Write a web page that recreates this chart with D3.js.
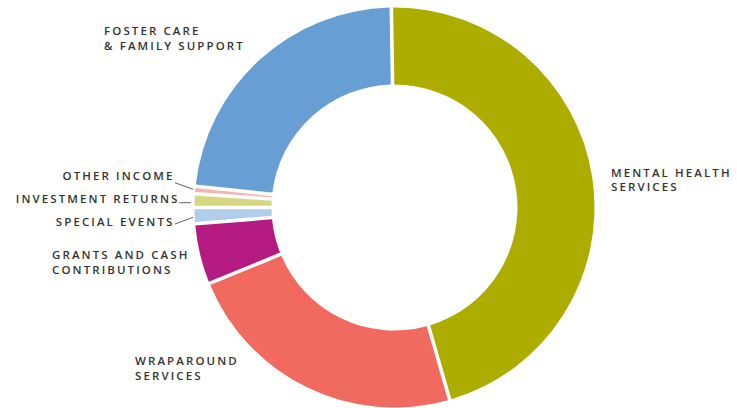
<!DOCTYPE html>
<html>
<head>
<meta charset="utf-8">
<script src="https://cdn.jsdelivr.net/npm/d3@7"></script>
<style>
  body { margin: 0; background: #fff; }
  text { font-family: "Open Sans", sans-serif; font-size: 11.5px; font-weight: 600; fill: #333; letter-spacing: 2.1px; }
</style>
</head>
<body>
<div id="donut"></div>
<script>
const width = 737,
    height = 408;

// revenue shares (percent), clockwise from the top
const categories = ["Mental Health Services", "Wraparound Services", "Grants and Cash Contributions",
  "Special Events", "Investment Returns", "Other Income", "Foster Care & Family Support"];
const values = [45.8, 23.25, 4.9, 1.3, 1.1, 0.6, 23.05];
const colors = ["#adad00", "#f06a60", "#b51a83", "#b0cdeb", "#d6d780", "#f7b3ae", "#679ed4"];

// label text lines, one entry per category
const labelLines = [
  ["MENTAL HEALTH", "SERVICES"],
  ["WRAPAROUND", "SERVICES"],
  ["GRANTS AND CASH", "CONTRIBUTIONS"],
  ["SPECIAL EVENTS"],
  ["INVESTMENT RETURNS"],
  ["OTHER INCOME"],
  ["FOSTER CARE", "& FAMILY SUPPORT"]
];

// hand placed label spots (x, first baseline, anchor) and leader lines
const labelPos = [
  { x: 611, y: 176.7, anchor: "start" },
  { x: 135, y: 365, anchor: "start" },
  { x: 52, y: 259.3, anchor: "start" },
  { x: 174.5, y: 225.7, anchor: "end" },
  { x: 179.5, y: 203.3, anchor: "end" },
  { x: 174.5, y: 180, anchor: "end" },
  { x: 104, y: 35.3, anchor: "start" }
];
const leaders = [
  null, null, null,
  [[175, 224], [193, 217.3]],
  [[179.5, 202.7], [191, 202.7]],
  [[175, 182.7], [193, 189.3]],
  null
];

const data = categories.map((c, i) => ({ name: c, value: values[i], i: i }));

const cx = 394.5, cy = 207.5,
    outerR = 200, innerR = 123;

const svg = d3.select("#donut")
  .append("svg")
  .attr("width", width)
  .attr("height", height);

const start = -0.9 * Math.PI / 180;
const pie = d3.pie()
  .sort(null)
  .value(d => d.value)
  .startAngle(start)
  .endAngle(start + 2 * Math.PI);

const arc = d3.arc()
  .innerRadius(innerR)
  .outerRadius(outerR)
  .padRadius(outerR)
  .padAngle(3.6 / outerR);

const g = svg.append("g")
  .attr("transform", `translate(${cx},${cy})`);

g.selectAll("path")
  .data(pie(data))
  .join("path")
  .attr("d", arc)
  .attr("fill", d => colors[d.data.i]);

// labels
const lineGap = 14.5;
labelLines.forEach((lines, i) => {
  const t = svg.append("text")
    .attr("text-anchor", labelPos[i].anchor)
    .attr("x", labelPos[i].x)
    .attr("y", labelPos[i].y);
  lines.forEach((l, j) => {
    t.append("tspan")
      .attr("x", labelPos[i].x)
      .attr("y", labelPos[i].y + j * lineGap)
      .text(l);
  });
});

svg.selectAll("line.leader")
  .data(leaders.filter(d => d))
  .join("line")
  .attr("class", "leader")
  .attr("x1", d => d[0][0])
  .attr("y1", d => d[0][1])
  .attr("x2", d => d[1][0])
  .attr("y2", d => d[1][1])
  .attr("stroke", "#333")
  .attr("stroke-width", 0.8);
</script>
</body>
</html>
